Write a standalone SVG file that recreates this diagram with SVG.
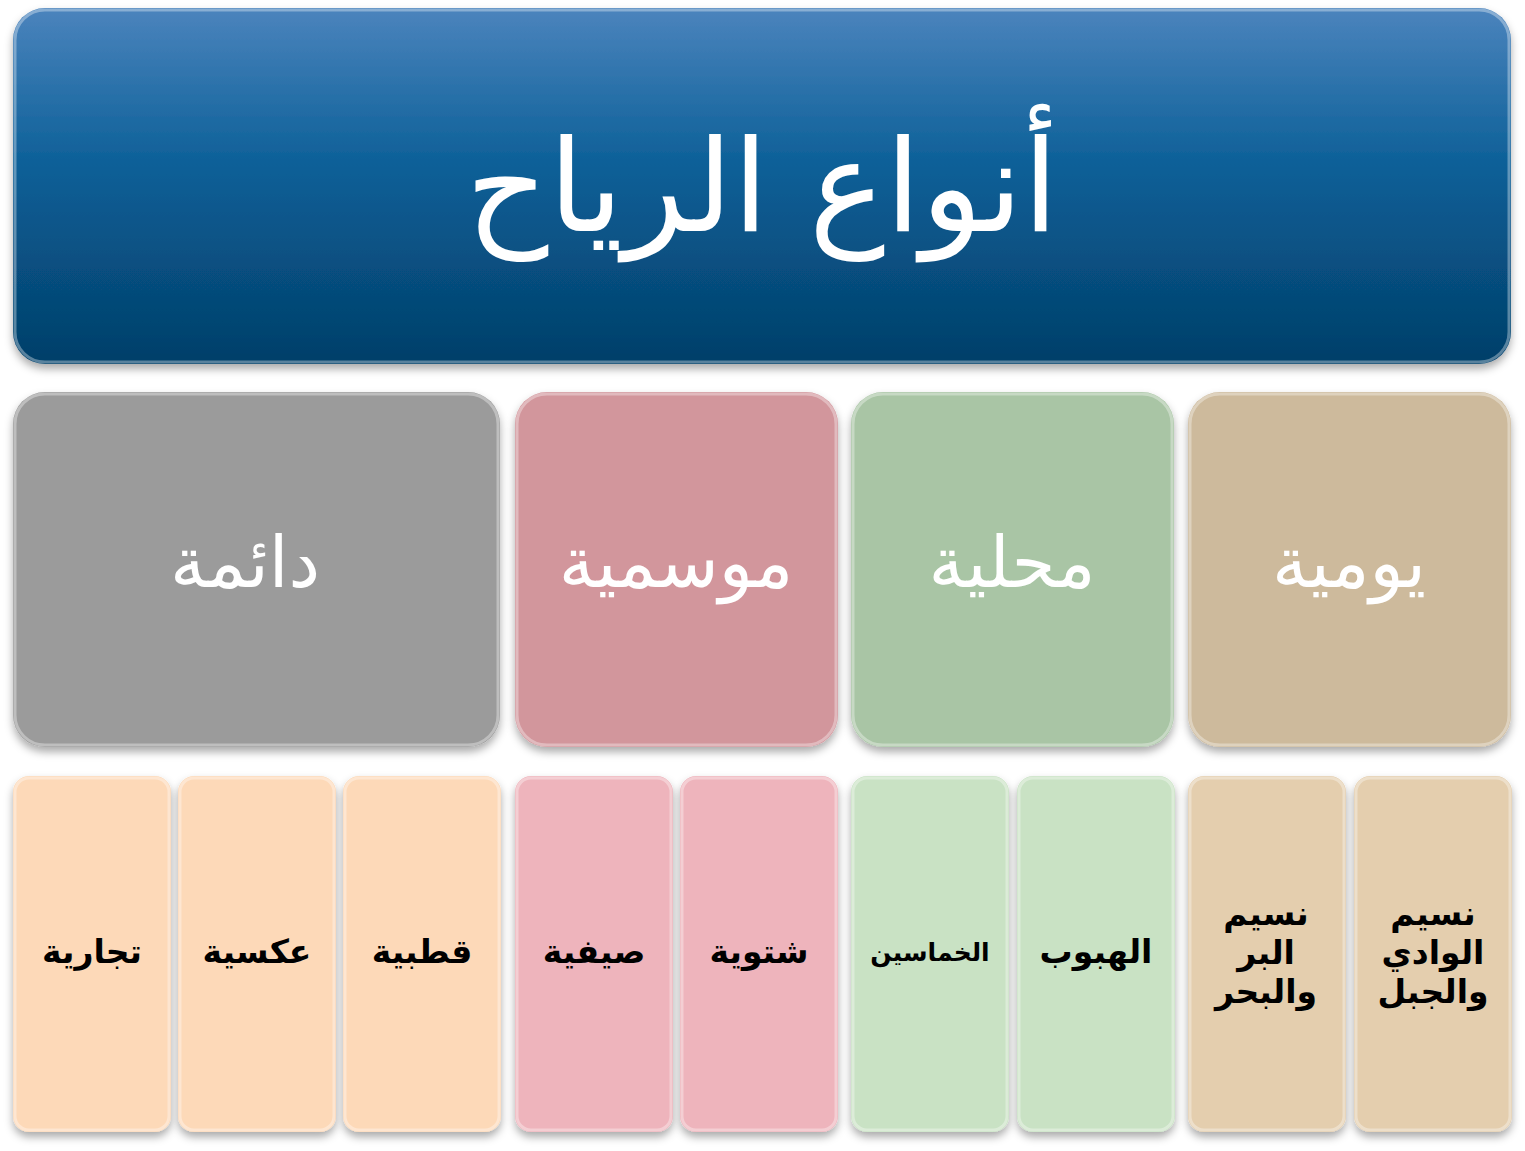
<svg xmlns="http://www.w3.org/2000/svg" width="1525" height="1151" viewBox="0 0 1525 1151">
<style>
  .t { font-family: "DejaVu Sans", "Noto Sans", sans-serif; text-anchor: middle; direction: rtl; }
  .title { fill: #ffffff; font-size: 128px; }
  .cat { fill: #ffffff; font-size: 71px; }
  .sub { fill: #000000; font-size: 33px; font-weight: bold; }
  .edge { fill: none; stroke: #ffffff; stroke-opacity: 0.35; stroke-width: 3; }
</style>
<defs>
  <linearGradient id="gTitle" x1="0" y1="0" x2="0" y2="1">
    <stop offset="0" stop-color="#4b84bd"/>
    <stop offset="0.45" stop-color="#0b5f97"/>
    <stop offset="1" stop-color="#033f69"/>
  </linearGradient>
  <filter id="sh" x="-10%" y="-10%" width="120%" height="125%">
    <feDropShadow dx="0" dy="5" stdDeviation="4.5" flood-color="#000" flood-opacity="0.33"/>
  </filter>
</defs>
<rect width="1525" height="1151" fill="#ffffff"/>

<g id="title">
  <rect x="13" y="8" width="1498" height="356" rx="32" fill="url(#gTitle)" filter="url(#sh)"/>
  <rect x="15" y="10" width="1494" height="352" rx="30" class="edge" stroke-opacity="0.2"/>
  <text class="t title" x="762" y="231">أنواع الرياح</text>
</g>

<g id="cat-daima">
  <rect x="13" y="392" width="487" height="355" rx="32" fill="#9b9b9b" filter="url(#sh)"/>
  <rect x="15" y="394" width="483" height="351" rx="30" class="edge"/>
  <text class="t cat" x="245" y="587">دائمة</text>
</g>
<g id="cat-mawsimiya">
  <rect x="515" y="392" width="323" height="355" rx="32" fill="#d2969c" filter="url(#sh)"/>
  <rect x="517" y="394" width="319" height="351" rx="30" class="edge"/>
  <text class="t cat" x="676" y="587">موسمية</text>
</g>
<g id="cat-mahalliya">
  <rect x="851" y="392" width="323" height="355" rx="32" fill="#a9c5a5" filter="url(#sh)"/>
  <rect x="853" y="394" width="319" height="351" rx="30" class="edge"/>
  <text class="t cat" x="1012" y="587">محلية</text>
</g>
<g id="cat-yawmiya">
  <rect x="1188" y="392" width="323" height="355" rx="32" fill="#cdba9c" filter="url(#sh)"/>
  <rect x="1190" y="394" width="319" height="351" rx="30" class="edge"/>
  <text class="t cat" x="1349" y="587">يومية</text>
</g>

<g id="sub-tijariya">
  <rect x="13" y="776" width="158" height="356" rx="16" fill="#fdd9b8" filter="url(#sh)"/>
  <rect x="15" y="778" width="154" height="352" rx="14" class="edge"/>
  <text class="t sub" x="92" y="963">تجارية</text>
</g>
<g id="sub-aksiya">
  <rect x="178" y="776" width="158" height="356" rx="16" fill="#fdd9b8" filter="url(#sh)"/>
  <rect x="180" y="778" width="154" height="352" rx="14" class="edge"/>
  <text class="t sub" x="257" y="963">عكسية</text>
</g>
<g id="sub-qutbiya">
  <rect x="343" y="776" width="158" height="356" rx="16" fill="#fdd9b8" filter="url(#sh)"/>
  <rect x="345" y="778" width="154" height="352" rx="14" class="edge"/>
  <text class="t sub" x="422" y="963">قطبية</text>
</g>
<g id="sub-sayfiya">
  <rect x="515" y="776" width="158" height="356" rx="16" fill="#eeb4bc" filter="url(#sh)"/>
  <rect x="517" y="778" width="154" height="352" rx="14" class="edge"/>
  <text class="t sub" x="594" y="963">صيفية</text>
</g>
<g id="sub-shatwiya">
  <rect x="680" y="776" width="158" height="356" rx="16" fill="#eeb4bc" filter="url(#sh)"/>
  <rect x="682" y="778" width="154" height="352" rx="14" class="edge"/>
  <text class="t sub" x="759" y="963">شتوية</text>
</g>
<g id="sub-khamasin">
  <rect x="851" y="776" width="158" height="356" rx="16" fill="#c9e2c4" filter="url(#sh)"/>
  <rect x="853" y="778" width="154" height="352" rx="14" class="edge"/>
  <text class="t sub" x="930" y="961" style="font-size:25px">الخماسين</text>
</g>
<g id="sub-haboob">
  <rect x="1017" y="776" width="158" height="356" rx="16" fill="#c9e2c4" filter="url(#sh)"/>
  <rect x="1019" y="778" width="154" height="352" rx="14" class="edge"/>
  <text class="t sub" x="1096" y="963">الهبوب</text>
</g>
<g id="sub-barr-bahr">
  <rect x="1188" y="776" width="158" height="356" rx="16" fill="#e4ceae" filter="url(#sh)"/>
  <rect x="1190" y="778" width="154" height="352" rx="14" class="edge"/>
  <text class="t sub" x="1266" y="925">نسيم</text>
  <text class="t sub" x="1266" y="964">البر</text>
  <text class="t sub" x="1266" y="1003">والبحر</text>
</g>
<g id="sub-wadi-jabal">
  <rect x="1354" y="776" width="158" height="356" rx="16" fill="#e4ceae" filter="url(#sh)"/>
  <rect x="1356" y="778" width="154" height="352" rx="14" class="edge"/>
  <text class="t sub" x="1433" y="925">نسيم</text>
  <text class="t sub" x="1433" y="964">الوادي</text>
  <text class="t sub" x="1433" y="1003">والجبل</text>
</g>

<g id="connectors"></g>
</svg>
